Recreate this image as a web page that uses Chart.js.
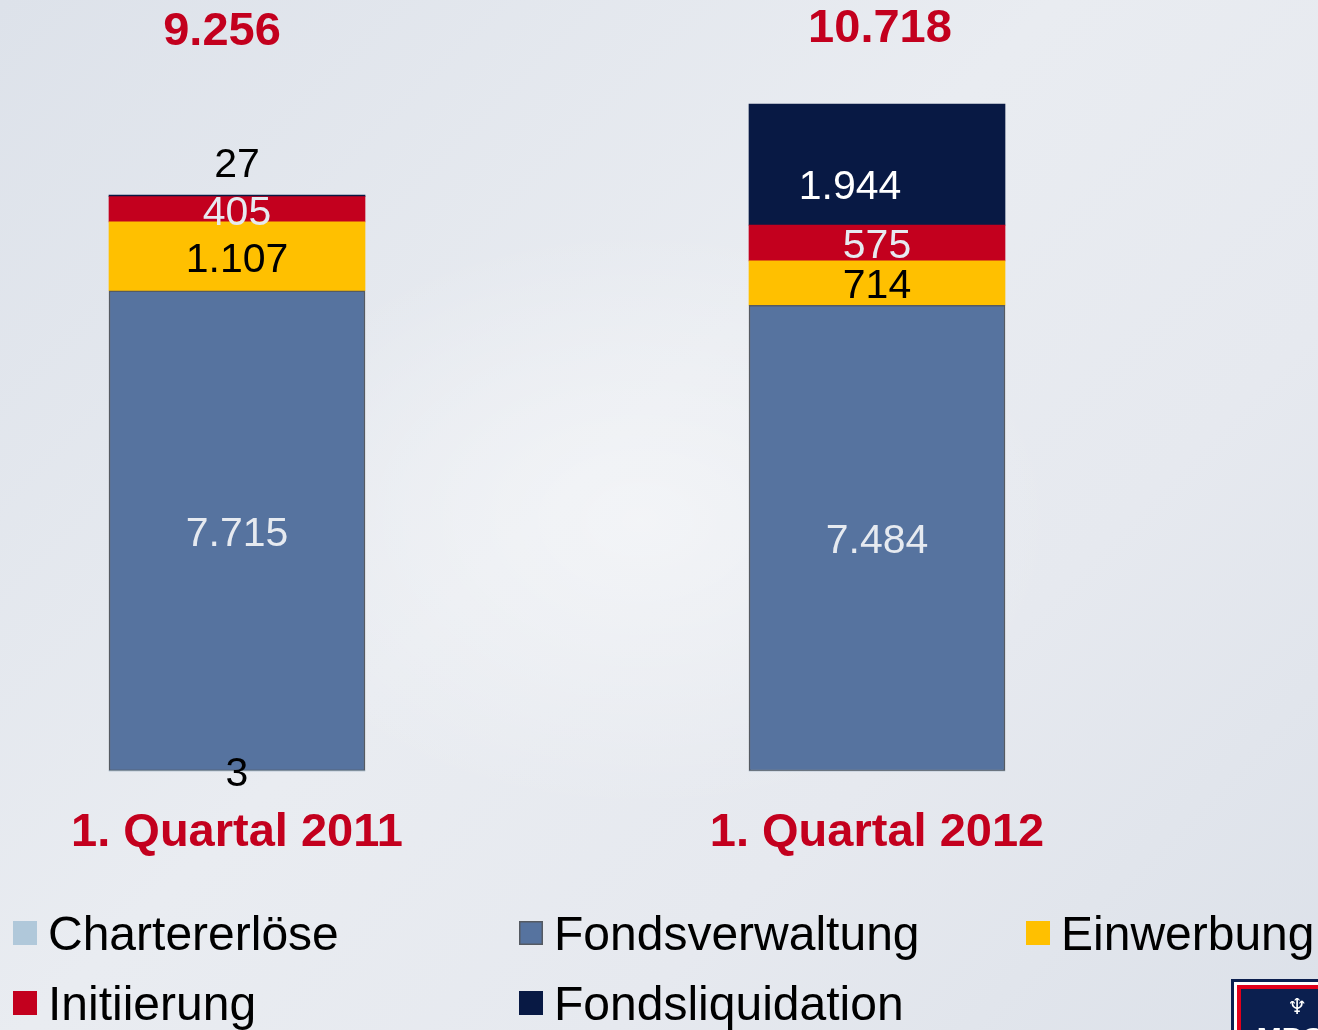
<!DOCTYPE html>
<html>
<head>
<meta charset="utf-8">
<script src="https://cdn.jsdelivr.net/npm/chart.js@4.4.1/dist/chart.umd.min.js"></script>
<style>
  html, body { margin: 0; padding: 0; }
  body {
    width: 1318px; height: 1030px; overflow: hidden;
    background:
      radial-gradient(ellipse 600px 420px at 640px 520px, rgba(255,255,255,0.45), rgba(255,255,255,0) 70%),
      linear-gradient(135deg, #dde2ea 0%, #e9ecf1 45%, #e6e9ef 70%, #dce1e9 100%);
  }
  #wrap { position: relative; width: 1318px; height: 1030px; }
</style>
</head>
<body>
<div id="wrap"><canvas id="revenueChart" width="1318" height="1030"></canvas></div>
<script>
// Categories (quarters) and stacked revenue series, in TEUR
const quarters = ['1. Quartal 2011', '1. Quartal 2012'];
const chartererloese = [3, 0];
const fondsverwaltung = [7715, 7484];
const einwerbung = [1107, 714];
const initiierung = [405, 575];
const fondsliquidation = [27, 1944];
// Totals as printed above the bars
const totals = [9256, 10718];

const seriesNames = ['Chartererlöse', 'Fondsverwaltung', 'Einwerbung', 'Initiierung', 'Fondsliquidation'];
const seriesColors = ['#b0c8da', '#56739f', '#ffc000', '#c3001e', '#081944'];
const labelColors = ['#000000', '#e6eaf0', '#000000', '#e6eaf0', '#ffffff'];

const RED = '#c3001e';
const FONT = '"Liberation Sans", Arial, sans-serif';

// German number format: 7715 -> 7.715
function fmt(n) {
    return String(n).replace(/\B(?=(\d{3})+(?!\d))/g, '.');
}

// Value labels inside the stacked segments
const segmentLabels = {
    id: 'segmentLabels',
    afterDatasetsDraw(chart) {
        const ctx = chart.ctx;
        ctx.save();
        ctx.font = '41px ' + FONT;
        ctx.textAlign = 'center';
        ctx.textBaseline = 'middle';
        const lastIdx = chart.data.datasets.length - 1;
        chart.data.datasets.forEach((ds, di) => {
            chart.getDatasetMeta(di).data.forEach((bar, i) => {
                const v = ds.data[i];
                if (!v) return;
                let x = bar.x;
                let y = (bar.y + bar.base) / 2;
                let color = labelColors[di];
                const h = Math.abs(bar.base - bar.y);
                if (di === lastIdx && h < 8) { y = bar.y - 33; color = '#000000'; } // tiny top segment: label above
                if (di === lastIdx && h > 100) { x -= 27; y += 19; } // as placed in the original slide
                ctx.fillStyle = color;
                ctx.fillText(fmt(v), x, y + 4);
            });
        });

        // totals at the top
        ctx.font = 'bold 47px ' + FONT;
        ctx.fillStyle = RED;
        const meta = chart.getDatasetMeta(0);
        const totalShift = [-15, 3];
        totals.forEach((t, i) => {
            ctx.fillText(fmt(t), meta.data[i].x + totalShift[i], 32 - i * 3);
        });
        ctx.restore();
    }
};

// Legend in a fixed 3-column grid plus the logo corner
const gridLegend = {
    id: 'gridLegend',
    afterDraw(chart) {
        const ctx = chart.ctx;
        const cols = [13, 519, 1026];
        const rows = [933, 1003];
        ctx.save();
        ctx.font = '48px ' + FONT;
        ctx.textBaseline = 'middle';
        ctx.textAlign = 'left';
        chart.data.datasets.forEach((ds, i) => {
            const cx = cols[i % 3];
            const cy = rows[Math.floor(i / 3)];
            ctx.fillStyle = ds.backgroundColor;
            ctx.fillRect(cx, cy - 12, 24, 24);
            if (ds.borderWidth) {
                ctx.strokeStyle = ds.borderColor;
                ctx.lineWidth = 1.5;
                ctx.strokeRect(cx + 0.75, cy - 11.25, 22.5, 22.5);
            }
            ctx.fillStyle = '#000000';
            ctx.fillText(ds.label, cx + 35, cy + 4);
        });

        // logo corner
        ctx.fillStyle = '#0b1f4f';
        ctx.fillRect(1231, 979, 87, 51);
        ctx.fillStyle = '#ffffff';
        ctx.fillRect(1234, 982, 84, 48);
        ctx.fillStyle = '#e2001a';
        ctx.fillRect(1237, 985, 81, 45);
        ctx.fillStyle = '#0b1f4f';
        ctx.fillRect(1241, 989, 77, 41);
        ctx.fillStyle = '#ffffff';
        ctx.font = 'bold 22px "DejaVu Sans", sans-serif';
        ctx.textAlign = 'center';
        ctx.fillText('\u2646', 1297, 1008);
        ctx.font = 'bold 30px ' + FONT;
        ctx.fillText('MPC', 1290, 1040);
        ctx.restore();
    }
};

const datasets = [chartererloese, fondsverwaltung, einwerbung, initiierung, fondsliquidation].map((d, i) => ({
    label: seriesNames[i],
    data: d,
    backgroundColor: seriesColors[i],
    borderColor: i === 1 ? '#555a62' : seriesColors[i],
    borderWidth: i === 1 ? 1.5 : 0,
    borderSkipped: false,
    barThickness: 256,
    clip: false
}));

new Chart(document.getElementById('revenueChart'), {
    type: 'bar',
    data: { labels: quarters, datasets: datasets },
    options: {
        responsive: false,
        animation: false,
        layout: { padding: { left: 237, right: 441, top: 0, bottom: 0 } },
        plugins: {
            legend: { display: false },
            tooltip: { enabled: false }
        },
        scales: {
            x: {
                stacked: true,
                offset: false,
                grid: { display: false, drawTicks: false },
                border: { display: false },
                ticks: {
                    color: RED,
                    font: { family: FONT, size: 47, weight: 'bold' },
                    padding: 34,
                    maxRotation: 0,
                    autoSkip: false
                },
                afterFit(scale) { scale.height = 259; }
            },
            y: {
                stacked: true,
                display: false,
                min: 0,
                max: 12390
            }
        }
    },
    plugins: [segmentLabels, gridLegend]
});
</script>
</body>
</html>
